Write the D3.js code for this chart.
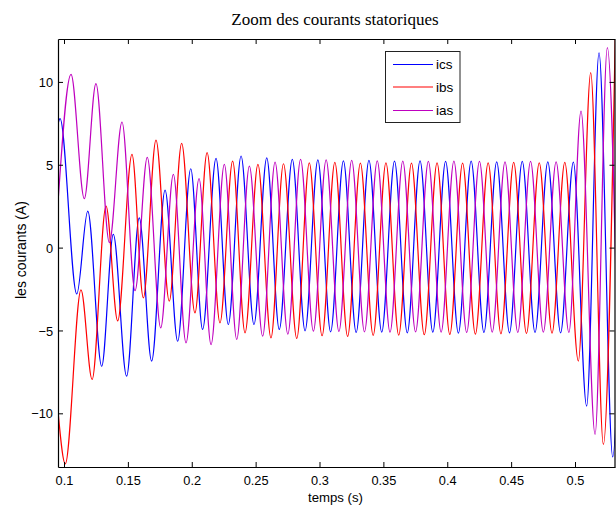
<!DOCTYPE html>
<html>
<head>
<meta charset="utf-8">
<script src="https://cdn.jsdelivr.net/npm/d3@7"></script>
<style>
  html, body { margin: 0; padding: 0; background: #fff; }
  svg { display: block; }
  .tick text { font-family: "Liberation Sans", Arial, sans-serif; font-size: 12.8px; fill: #000; }
</style>
</head>
<body>
<svg id="chart" width="616" height="510"></svg>
<script>
// Stator currents (A) versus time (s): successive peaks and troughs of each phase.
const ics = [
  [0.0953, 7.45], [0.0969, 7.78], [0.1100, -2.8], [0.1186, 2.2], [0.1295, -7.16],
  [0.1386, 0.8], [0.1490, -7.76], [0.1589, 1.8], [0.1686, -6.85], [0.1791, 3.47],
  [0.1890, -5.65], [0.1992, 4.76], [0.2085, -4.94], [0.2190, 5.39], [0.2286, -4.64],
  [0.2386, 5.53], [0.2487, -4.64], [0.2587, 5.42], [0.2685, -4.94], [0.2787, 5.33],
  [0.2887, -5.02], [0.2987, 5.30], [0.3087, -5.08], [0.3187, 5.24], [0.3287, -5.12],
  [0.3387, 5.26], [0.3487, -5.10], [0.3587, 5.22], [0.3687, -5.14], [0.3787, 5.24],
  [0.3887, -5.10], [0.3987, 5.20], [0.4087, -5.16], [0.4187, 5.22], [0.4287, -5.12],
  [0.4387, 5.18], [0.4487, -5.14], [0.4587, 5.20], [0.4687, -5.12], [0.4787, 5.18],
  [0.4887, -5.14], [0.4987, 5.16], [0.5091, -9.57], [0.5188, 11.76], [0.5295, -12.63],
  [0.5395, 13.2]
];
const ibs = [
  [0.0953, -9.85], [0.1010, -13.05], [0.1133, -2.55], [0.1220, -7.96], [0.1329, 2.5],
  [0.1420, -4.42], [0.1532, 5.63], [0.1621, -3.03], [0.1720, 6.49], [0.1824, -3.23],
  [0.1921, 6.29], [0.2025, -3.94], [0.2120, 5.73], [0.2221, -4.54], [0.2320, 5.22],
  [0.2417, -5.14], [0.2518, 5.02], [0.2620, -5.45], [0.2718, 5.06], [0.2822, -5.48],
  [0.2920, 5.12], [0.3020, -5.32], [0.3120, 5.14], [0.3220, -5.36], [0.3320, 5.10],
  [0.3420, -5.30], [0.3520, 5.12], [0.3620, -5.28], [0.3720, 5.10], [0.3820, -5.26],
  [0.3920, 5.12], [0.4020, -5.24], [0.4120, 5.10], [0.4220, -5.22], [0.4320, 5.12],
  [0.4420, -5.20], [0.4520, 5.14], [0.4620, -5.18], [0.4720, 5.12], [0.4820, -5.16],
  [0.4920, 5.14], [0.5026, -6.85], [0.5123, 10.56], [0.5222, -11.88], [0.5318, 14.0]
];
const ias = [
  [0.0953, 2.7], [0.1055, 10.46], [0.1159, 2.95], [0.1250, 9.9], [0.1355, 0.3],
  [0.1454, 7.58], [0.1556, -2.6], [0.1652, 5.45], [0.1757, -4.84], [0.1856, 4.42],
  [0.1955, -5.75], [0.2057, 4.16], [0.2151, -5.85], [0.2255, 5.02], [0.2352, -5.54],
  [0.2451, 4.92], [0.2555, -5.34], [0.2652, 5.16], [0.2752, -5.22], [0.2852, 5.33],
  [0.2952, -5.04], [0.3052, 5.30], [0.3152, -5.06], [0.3252, 5.26], [0.3352, -5.08],
  [0.3452, 5.24], [0.3552, -5.10], [0.3652, 5.22], [0.3752, -5.08], [0.3852, 5.20],
  [0.3952, -5.10], [0.4052, 5.22], [0.4152, -5.12], [0.4252, 5.20], [0.4352, -5.10],
  [0.4452, 5.18], [0.4552, -5.12], [0.4652, 5.20], [0.4752, -5.10], [0.4852, 5.18],
  [0.4952, -5.12], [0.5047, 8.24], [0.5157, -11.28], [0.5253, 12.07], [0.5353, -13.8]
];

const seriesNames = ["ics", "ibs", "ias"];
const seriesColors = ["#0000ff", "#ff0000", "#bf00bf"];
const xTicks = [0.1, 0.15, 0.2, 0.25, 0.3, 0.35, 0.4, 0.45, 0.5];
const yTicks = [-10, -5, 0, 5, 10];
const xDomain = [0.0953, 0.5313];
const yDomain = [-13.24, 12.59];

const margin = { left: 58, top: 39, right: 1, bottom: 43 };
const W = 616, H = 510;
const svg = d3.select("#chart");

const x = d3.scaleLinear().domain(xDomain).range([margin.left, W - margin.right]);
const y = d3.scaleLinear().domain(yDomain).range([H - margin.bottom, margin.top]);

svg.append("defs").append("clipPath").attr("id", "plot-clip")
  .append("rect")
  .attr("x", margin.left).attr("y", margin.top)
  .attr("width", x.range()[1] - margin.left)
  .attr("height", y.range()[0] - margin.top);

// Curves
const line = d3.line()
  .x(d => x(d[0]))
  .y(d => y(d[1]))
  .curve(d3.curveMonotoneX);

const plot = svg.append("g").attr("clip-path", "url(#plot-clip)");
[ics, ibs, ias].forEach((s, i) => {
  plot.append("path")
    .datum(s)
    .attr("fill", "none")
    .attr("stroke", seriesColors[i])
    .attr("stroke-width", 1.2)
    .attr("stroke-linejoin", "round")
    .attr("d", line);
});

// Axes: box frame with inward ticks on all four sides
const fmt = d3.format("");
const xAxis = svg.append("g")
  .attr("transform", `translate(0,${y.range()[0]})`)
  .call(d3.axisBottom(x).tickValues(xTicks).tickFormat(d => fmt(d))
    .tickSizeInner(-5).tickSizeOuter(0).tickPadding(9));
const yAxis = svg.append("g")
  .attr("transform", `translate(${margin.left},0)`)
  .call(d3.axisLeft(y).tickValues(yTicks).tickFormat(d => fmt(d))
    .tickSizeInner(-5).tickSizeOuter(0).tickPadding(5));
const xTop = svg.append("g")
  .attr("transform", `translate(0,${margin.top})`)
  .call(d3.axisTop(x).tickValues(xTicks).tickFormat("").tickSizeInner(-5).tickSizeOuter(0));
const yRight = svg.append("g")
  .attr("transform", `translate(${x.range()[1] - 0.5},0)`)
  .call(d3.axisRight(y).tickValues(yTicks).tickFormat("").tickSizeInner(-5).tickSizeOuter(0));

[xAxis, yAxis, xTop, yRight].forEach(g => {
  g.selectAll(".domain").attr("stroke", "#000").attr("stroke-width", 1.2);
  g.selectAll(".tick line").attr("stroke", "#000").attr("stroke-width", 1);
});
yAxis.selectAll(".tick text").attr("dy", "0.36em");

// Title and axis labels
svg.append("text")
  .attr("x", 335).attr("y", 25)
  .attr("text-anchor", "middle")
  .attr("font-family", "'Liberation Serif', 'Times New Roman', serif")
  .attr("font-size", 17)
  .text("Zoom des courants statoriques");

svg.append("text")
  .attr("x", 335.5).attr("y", 502)
  .attr("text-anchor", "middle")
  .attr("font-family", "'Liberation Sans', Arial, sans-serif")
  .attr("font-size", 13.2)
  .text("temps (s)");

svg.append("text")
  .attr("transform", "translate(26,250) rotate(-90)")
  .attr("text-anchor", "middle")
  .attr("font-family", "'Liberation Sans', Arial, sans-serif")
  .attr("font-size", 14)
  .text("les courants (A)");

// Legend
const legend = svg.append("g");
legend.append("rect")
  .attr("x", 385.5).attr("y", 51.5)
  .attr("width", 74.5).attr("height", 71)
  .attr("fill", "#fff").attr("stroke", "#222").attr("stroke-width", 1);
const rowY = [64.5, 87, 110.5];
seriesNames.forEach((name, i) => {
  legend.append("line")
    .attr("x1", 393).attr("x2", 433)
    .attr("y1", rowY[i]).attr("y2", rowY[i])
    .attr("stroke", seriesColors[i]).attr("stroke-width", 1.2);
  legend.append("text")
    .attr("x", 436).attr("y", rowY[i] + 4.7)
    .attr("font-family", "'Liberation Sans', Arial, sans-serif")
    .attr("font-size", 13.5)
    .text(name);
});
</script>
</body>
</html>
